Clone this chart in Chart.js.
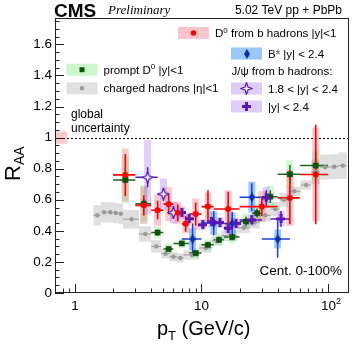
<!DOCTYPE html>
<html>
<head>
<meta charset="utf-8">
<script src="https://cdn.jsdelivr.net/npm/chart.js@4.4.1/dist/chart.umd.min.js"></script>
<style>
  html, body { margin: 0; padding: 0; background: #fff; }
  #wrap { width: 355px; height: 347px; }
</style>
</head>
<body>
<div id="wrap"><canvas id="raa" width="355" height="347"></canvas></div>
<script>
// ---- values ----
// charged hadrons |eta|<1
const hadPt  = [1.5, 1.7, 1.9, 2.1, 2.3, 2.8, 3.6, 4.4, 5.2, 6.0, 6.8, 8.4, 10.8, 13.2, 16.8, 21.6, 26.4, 32, 38.4, 44.8, 54.4, 67.2, 80, 95, 112, 131];
const hadLo  = [1.4, 1.6, 1.8, 2.0, 2.2, 2.4, 3.2, 4.0, 4.8, 5.6, 6.4, 7.2, 9.6, 12, 14.4, 19.2, 24, 28.8, 35.2, 41.6, 48, 60.8, 73.6, 86.4, 103.6, 120.8];
const hadHi  = [1.6, 1.8, 2.0, 2.2, 2.4, 3.2, 4.0, 4.8, 5.6, 6.4, 7.2, 9.6, 12, 14.4, 19.2, 24, 28.8, 35.2, 41.6, 48, 60.8, 73.6, 86.4, 103.6, 120.8, 140.8];
const hadRaa = [0.50, 0.52, 0.52, 0.515, 0.51, 0.475, 0.38, 0.30, 0.253, 0.234, 0.226, 0.245, 0.29, 0.335, 0.37, 0.42, 0.455, 0.50, 0.54, 0.60, 0.655, 0.695, 0.78, 0.81, 0.813, 0.82];
const hadSys = [0.065, 0.065, 0.065, 0.065, 0.065, 0.06, 0.05, 0.04, 0.03, 0.03, 0.03, 0.03, 0.03, 0.03, 0.035, 0.035, 0.04, 0.04, 0.045, 0.045, 0.03, 0.03, 0.08, 0.08, 0.08, 0.085];

// prompt D0 |y|<1
const pdPt   = [2.5, 3.5, 4.5, 5.5, 7, 9, 11.25, 13.75, 17.5, 22.5, 27.5, 35, 50, 80];
const pdLo   = [2, 3, 4, 5, 6, 8, 10, 12.5, 15, 20, 25, 30, 40, 60];
const pdHi   = [3, 4, 5, 6, 8, 10, 12.5, 15, 20, 25, 30, 40, 60, 100];
const pdRaa  = [0.728, 0.575, 0.389, 0.283, 0.319, 0.257, 0.31, 0.342, 0.36, 0.46, 0.514, 0.62, 0.764, 0.82];
const pdStat = [0.03, 0.03, 0.02, 0.015, 0.015, 0.015, 0.015, 0.02, 0.02, 0.03, 0.03, 0.04, 0.06, 0.08];
const pdSys  = [0.15, 0.12, 0.04, 0.035, 0.03, 0.03, 0.035, 0.035, 0.04, 0.05, 0.06, 0.07, 0.09, 0.1];

// D0 from b hadrons |y|<1
const npPt   = [2.5, 3.5, 4.5, 5.5, 6.5, 7.5, 9, 11.25, 16.25, 30, 50, 80];
const npLo   = [2, 3, 4, 5, 6, 7, 8, 10, 12.5, 20, 40, 60];
const npHi   = [3, 4, 5, 6, 7, 8, 10, 12.5, 20, 40, 60, 100];
const npRaa  = [0.76, 0.564, 0.533, 0.572, 0.516, 0.445, 0.508, 0.556, 0.541, 0.556, 0.612, 0.763];
const npStat = [0.135, 0.065, 0.06, 0.065, 0.055, 0.05, 0.075, 0.105, 0.11, 0.06, 0.17, 0.32];
const npSys  = [0.17, 0.12, 0.1, 0.11, 0.07, 0.06, 0.1, 0.09, 0.12, 0.1, 0.18, 0.3];

// B+ |y|<2.4
const bpPt   = [8.5, 12.5, 17.5, 25, 40];
const bpLo   = [7, 10, 15, 20, 30];
const bpHi   = [10, 15, 20, 30, 50];
const bpRaa  = [0.347, 0.45, 0.448, 0.617, 0.347];
const bpStat = [0.1, 0.08, 0.075, 0.09, 0.12];
const bpSys  = [0.07, 0.075, 0.07, 0.1, 0.06];

// J/psi from b hadrons |y|<2.4
const jpPt   = [7, 8, 10.25, 12, 14, 16.25, 18.75, 25, 32.5, 42.5];
const jpLo   = [6.5, 7.5, 9.5, 11, 13, 15, 17.5, 20, 30, 35];
const jpHi   = [7.5, 8.5, 11, 13, 15, 17.5, 20, 30, 35, 50];
const jpRaa  = [0.518, 0.478, 0.439, 0.458, 0.453, 0.417, 0.448, 0.47, 0.612, 0.477];
const jpStat = [0.02, 0.02, 0.02, 0.02, 0.02, 0.025, 0.025, 0.03, 0.05, 0.05];
const jpSys  = [0.04, 0.035, 0.035, 0.035, 0.035, 0.035, 0.035, 0.04, 0.07, 0.05];

// J/psi from b hadrons 1.8<|y|<2.4
const jfPt   = [3.75, 5, 6];
const jfLo   = [3, 4.5, 5.5];
const jfHi   = [4.5, 5.5, 6.5];
const jfRaa  = [0.745, 0.637, 0.517];
const jfStat = [0.065, 0.04, 0.04];
const jfSys  = [0.24, 0.1, 0.07];

// global uncertainty box, axis ticks
const globalUnc = 0.04;
const globalPt = [0.695, 0.87];
const yTicks = [0, 0.2, 0.4, 0.6, 0.8, 1, 1.2, 1.4, 1.6];
const yTickLabels = ['0', '0.2', '0.4', '0.6', '0.8', '1', '1.2', '1.4', '1.6'];
const xTicks = [1, 10, 100];
const xTickLabels = [['1', ''], ['10', ''], ['10', '2']];

const X_MIN = 0.695, X_MAX = 146.6, Y_MIN = 0, Y_MAX = 1.77;
const FONT = "'Liberation Sans', Arial, Helvetica, sans-serif";

// colours
const RED = '#ff0000', GREEN = '#0c560c', GRAY = '#9a9a9a', BLUE = '#0b2fa8', PURPLE = '#5a16b6';
const pinkBox = 'rgba(240, 80, 95, 0.30)';
const greenBox = 'rgba(70, 225, 70, 0.25)';
const grayBox = 'rgba(150, 150, 150, 0.30)';
const blueBox = 'rgba(40, 135, 240, 0.45)';
const lavBox = 'rgba(150, 95, 240, 0.30)';

// marker sprites
function sprite(w, h, draw) {
  const c = document.createElement('canvas');
  c.width = w; c.height = h;
  draw(c.getContext('2d'), w, h);
  return c;
}
const crossFilled = sprite(9, 9, (g) => {
  g.fillStyle = PURPLE;
  g.fillRect(3, 0, 3, 9);
  g.fillRect(0, 3, 9, 3);
});
const crossOpen = sprite(13, 13, (g) => {
  g.strokeStyle = PURPLE; g.fillStyle = '#fff'; g.lineWidth = 1.2;
  g.beginPath();
  g.moveTo(6.5, 0.8); g.lineTo(8, 5); g.lineTo(12.2, 6.5); g.lineTo(8, 8);
  g.lineTo(6.5, 12.2); g.lineTo(5, 8); g.lineTo(0.8, 6.5); g.lineTo(5, 5);
  g.closePath(); g.fill(); g.stroke();
});
const diamond = sprite(6, 10, (g) => {
  g.fillStyle = BLUE;
  g.beginPath();
  g.moveTo(3, 0); g.lineTo(6, 5); g.lineTo(3, 10); g.lineTo(0, 5);
  g.closePath(); g.fill();
});

const pts = (xs, ys) => xs.map((v, i) => ({ x: v, y: ys[i] }));

function rich(ctx, x, y, parts, align) {
  let w = 0;
  parts.forEach(p => { ctx.font = (p[3] || '') + ' ' + p[1] + 'px ' + (p[4] || FONT); w += ctx.measureText(p[0]).width; });
  let cx = align === 'right' ? x - w : align === 'center' ? x - w / 2 : x;
  parts.forEach(p => {
    ctx.font = (p[3] || '') + ' ' + p[1] + 'px ' + (p[4] || FONT);
    ctx.fillText(p[0], cx, y + (p[2] || 0));
    cx += ctx.measureText(p[0]).width;
  });
}

const decor = {
  id: 'cmsDecor',
  beforeDatasetsDraw(chart) {
    const { ctx, chartArea: a, scales: { x, y } } = chart;
    ctx.save();
    ctx.beginPath();
    ctx.rect(a.left, a.top, a.right - a.left, a.bottom - a.top);
    ctx.clip();

    // global uncertainty
    ctx.fillStyle = pinkBox;
    const gx0 = x.getPixelForValue(globalPt[0]), gx1 = x.getPixelForValue(globalPt[1]);
    const gy0 = y.getPixelForValue(1 + globalUnc), gy1 = y.getPixelForValue(1 - globalUnc);
    ctx.fillRect(gx0, gy0, gx1 - gx0, gy1 - gy0);

    // charged hadron boxes span the bin
    ctx.fillStyle = grayBox;
    hadPt.forEach((p, i) => {
      const x0 = x.getPixelForValue(hadLo[i]), x1 = x.getPixelForValue(hadHi[i]);
      const y0 = y.getPixelForValue(hadRaa[i] + hadSys[i]), y1 = y.getPixelForValue(hadRaa[i] - hadSys[i]);
      ctx.fillRect(x0, y0, x1 - x0, y1 - y0);
    });

    // narrow systematic boxes
    const narrow = (xs, ys, sys, col) => {
      ctx.fillStyle = col;
      xs.forEach((p, i) => {
        const xp = x.getPixelForValue(p);
        const y0 = y.getPixelForValue(ys[i] + sys[i]), y1 = y.getPixelForValue(ys[i] - sys[i]);
        ctx.fillRect(xp - 3.5, y0, 7, y1 - y0);
      });
    };
    narrow(pdPt, pdRaa, pdSys, greenBox);
    narrow(npPt, npRaa, npSys, pinkBox);
    narrow(bpPt, bpRaa, bpSys, blueBox);
    narrow(jpPt, jpRaa, jpSys, lavBox);
    narrow(jfPt, jfRaa, jfSys, lavBox);

    // dotted line at unity
    ctx.strokeStyle = '#000'; ctx.lineWidth = 1; ctx.setLineDash([2, 2]);
    ctx.beginPath();
    ctx.moveTo(a.left, Math.round(y.getPixelForValue(1)) + 0.5);
    ctx.lineTo(a.right, Math.round(y.getPixelForValue(1)) + 0.5);
    ctx.stroke();
    ctx.setLineDash([]);

    // error bars: horizontal = bin width, vertical = stat
    const bars = (xs, lo, hi, ys, st, col, lw) => {
      ctx.strokeStyle = col; ctx.lineWidth = lw;
      ctx.beginPath();
      xs.forEach((p, i) => {
        const xp = x.getPixelForValue(p), yp = y.getPixelForValue(ys[i]);
        ctx.moveTo(x.getPixelForValue(lo[i]), yp);
        ctx.lineTo(x.getPixelForValue(hi[i]), yp);
        if (st) {
          ctx.moveTo(xp, y.getPixelForValue(ys[i] + st[i]));
          ctx.lineTo(xp, y.getPixelForValue(ys[i] - st[i]));
        }
      });
      ctx.stroke();
    };
    bars(hadPt, hadLo, hadHi, hadRaa, null, GRAY, 1);
    bars(pdPt, pdLo, pdHi, pdRaa, pdStat, '#1d6a1d', 1.5);
    bars(bpPt, bpLo, bpHi, bpRaa, bpStat, '#1a3fd6', 1.5);
    bars(jpPt, jpLo, jpHi, jpRaa, jpStat, PURPLE, 1.5);
    bars(jfPt, jfLo, jfHi, jfRaa, jfStat, PURPLE, 1.5);
    bars(npPt, npLo, npHi, npRaa, npStat, RED, 1.6);
    ctx.restore();
  },
  afterDraw(chart) {
    const { ctx, chartArea: a, scales: { x, y } } = chart;
    ctx.save();
    // frame
    ctx.strokeStyle = '#222'; ctx.lineWidth = 1;
    ctx.strokeRect(a.left + 0.5, a.top + 0.5, a.right - a.left - 1, a.bottom - a.top - 1);

    // inward ticks
    ctx.beginPath();
    for (let v = 0; v <= Y_MAX + 1e-9; v += 0.05) {
      const yp = Math.round(y.getPixelForValue(v)) + 0.5;
      const major = Math.abs(v / 0.2 - Math.round(v / 0.2)) < 1e-6;
      ctx.moveTo(a.left, yp); ctx.lineTo(a.left + (major ? 9 : 4.5), yp);
    }
    for (let d = 0.1; d <= 100; d *= 10) {
      for (let k = 1; k <= 9; k++) {
        const v = k * d;
        if (v < X_MIN || v > X_MAX) continue;
        const xp = Math.round(x.getPixelForValue(v)) + 0.5;
        ctx.moveTo(xp, a.bottom); ctx.lineTo(xp, a.bottom - (k === 1 ? 9 : 4.5));
      }
    }
    ctx.stroke();

    // tick labels
    ctx.fillStyle = '#000';
    ctx.textBaseline = 'middle'; ctx.textAlign = 'right';
    ctx.font = '13.5px ' + FONT;
    yTicks.forEach((v, i) => ctx.fillText(yTickLabels[i], a.left - 3, y.getPixelForValue(v)));
    ctx.textBaseline = 'alphabetic'; ctx.textAlign = 'left';
    xTicks.forEach((v, i) => {
      const l = xTickLabels[i];
      rich(ctx, x.getPixelForValue(v) + (l[1] ? 3 : 0), a.bottom + 17, [[l[0], 13.5], [l[1], 9, -6]], 'center');
    });

    // axis titles
    rich(ctx, 157, 335, [['p', 20], ['T', 13, 5], [' (GeV/c)', 20]], 'left');
    ctx.save();
    ctx.translate(20, 181);
    ctx.rotate(-Math.PI / 2);
    rich(ctx, 0, 0, [['R', 22], ['AA', 14, 4]], 'left');
    ctx.restore();

    // header
    rich(ctx, 54, 17, [['CMS', 19, 0, 'bold']], 'left');
    rich(ctx, 108, 14, [['Preliminary', 13, 0, 'italic', "'Liberation Serif', 'Times New Roman', serif"]], 'left');
    rich(ctx, 342, 14, [['5.02 TeV pp + PbPb', 12]], 'right');

    // text inside
    rich(ctx, 71, 118, [['global', 12]], 'left');
    rich(ctx, 71, 132, [['uncertainty', 12]], 'left');
    rich(ctx, 342, 275, [['Cent. 0-100%', 13.5]], 'right');

    // legend
    const entry = (x0, yc, fill, mark, parts) => {
      ctx.fillStyle = fill;
      ctx.fillRect(x0, yc - 6, 31, 12);
      mark(x0 + 15.5, yc);
      ctx.fillStyle = '#000';
      rich(ctx, x0 + 37, yc + 4, parts, 'left');
    };
    const dot = (col, r) => (cx, cy) => { ctx.fillStyle = col; ctx.beginPath(); ctx.arc(cx, cy, r, 0, Math.PI * 2); ctx.fill(); };
    const img = (s) => (cx, cy) => ctx.drawImage(s, Math.round(cx - s.width / 2), Math.round(cy - s.height / 2));
    const sq = (cx, cy) => { ctx.fillStyle = GREEN; ctx.fillRect(cx - 2.5, cy - 2.5, 5, 5); };
    const L = 11.5;
    entry(178, 33, 'rgba(245,150,160,0.55)', dot(RED, 2.8),
      [['D', L], ['0', 8, -4.5], [' from b hadrons |y|<1', L]]);
    entry(231, 53.5, 'rgba(110,175,245,0.7)', img(diamond),
      [['B', L], ['\u00b1', 8, -4], [' |y| < 2.4', L]]);
    ctx.fillStyle = '#000';
    rich(ctx, 231.5, 75, [['J/\u03c8 from b hadrons:', L]], 'left');
    entry(231, 88.5, 'rgba(200,170,248,0.6)', img(crossOpen), [['1.8 < |y| < 2.4', L]]);
    entry(231, 106.5, 'rgba(200,170,248,0.6)', img(crossFilled), [['|y| < 2.4', L]]);
    entry(66.5, 69.7, 'rgba(170,240,170,0.6)', sq,
      [['prompt D', L], ['0', 8, -4.5], [' |y|<1', L]]);
    entry(66.5, 88.3, 'rgba(200,200,200,0.55)', dot(GRAY, 2.2), [['charged hadrons |\u03b7|<1', L]]);
    ctx.restore();
  }
};

new Chart(document.getElementById('raa'), {
  type: 'scatter',
  data: {
    datasets: [
      { label: 'D0 from b hadrons', data: pts(npPt, npRaa), pointStyle: 'circle', pointRadius: 3,
        backgroundColor: RED, borderWidth: 0, order: 0 },
      { label: 'J/psi |y|<2.4', data: pts(jpPt, jpRaa), pointStyle: crossFilled, order: 1 },
      { label: 'J/psi 1.8<|y|<2.4', data: pts(jfPt, jfRaa), pointStyle: crossOpen, order: 2 },
      { label: 'B+', data: pts(bpPt, bpRaa), pointStyle: diamond, order: 3 },
      { label: 'prompt D0', data: pts(pdPt, pdRaa), pointStyle: 'rect', pointRadius: 3.6,
        backgroundColor: GREEN, borderColor: '#073d07', borderWidth: 0.5, order: 4 },
      { label: 'charged hadrons', data: pts(hadPt, hadRaa), pointStyle: 'circle', pointRadius: 2.2,
        backgroundColor: GRAY, borderWidth: 0, order: 5 }
    ]
  },
  options: {
    responsive: false,
    animation: false,
    devicePixelRatio: 1,
    layout: { padding: { left: 55, right: 6, top: 18, bottom: 54 } },
    scales: {
      x: { type: 'logarithmic', min: X_MIN, max: X_MAX, display: false },
      y: { type: 'linear', min: Y_MIN, max: Y_MAX, display: false }
    },
    plugins: { legend: { display: false }, tooltip: { enabled: false } }
  },
  plugins: [decor]
});
</script>
</body>
</html>
